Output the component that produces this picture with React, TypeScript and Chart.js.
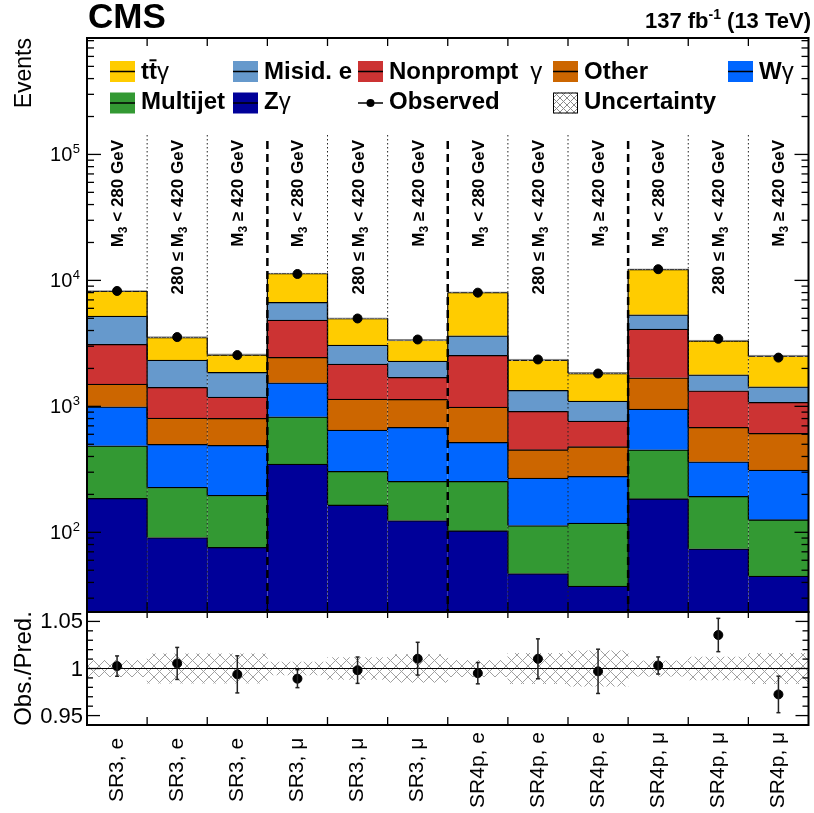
import React, { useEffect, useRef } from "react";
import { Chart, registerables } from "chart.js";

Chart.register(...registerables);

// ---------------- data ----------------
const categories = [
  "SR3, e", "SR3, e", "SR3, e",
  "SR3, μ", "SR3, μ", "SR3, μ",
  "SR4p, e", "SR4p, e", "SR4p, e",
  "SR4p, μ", "SR4p, μ", "SR4p, μ",
];
const regionLabels = [
  "M_3 < 280 GeV", "280 ≤ M_3 < 420 GeV", "M_3 ≥ 420 GeV",
  "M_3 < 280 GeV", "280 ≤ M_3 < 420 GeV", "M_3 ≥ 420 GeV",
  "M_3 < 280 GeV", "280 ≤ M_3 < 420 GeV", "M_3 ≥ 420 GeV",
  "M_3 < 280 GeV", "280 ≤ M_3 < 420 GeV", "M_3 ≥ 420 GeV",
];
// stacked from bottom to top
const zGamma = [186, 91, 76, 348, 165, 124, 103, 47, 37.5, 185, 74, 45];
const multijet = [301, 137, 121, 479, 140, 130, 151, 66, 81, 267, 119, 81];
const wGamma = [506, 271, 293, 712, 343, 427, 264, 157, 160, 500, 170, 186];
const other = [510, 309, 313, 909, 494, 455, 469, 183, 200, 734, 318, 298];
const nonprompt = [1602, 607, 382, 2392, 1024, 563, 1552, 460, 286, 2421, 649, 466];
const misidE = [2107, 916, 676, 1850, 899, 589, 1095, 428, 338, 1226, 451, 354];
const ttGamma = [3010, 1197, 707, 4673, 1929, 1071, 4397, 991, 726, 6898, 1536, 1077];
const observed = [8243, 3547, 2552, 11240, 4985, 3394, 7991, 2356, 1823, 12270, 3435, 2438];
const observedRatioErr = [0.0108, 0.017, 0.0197, 0.0095, 0.014, 0.0174, 0.0113, 0.0212, 0.0235, 0.0091, 0.0177, 0.0194];
const predRelUnc = [0.0088, 0.0156, 0.0156, 0.0068, 0.0117, 0.0149, 0.0088, 0.016, 0.0188, 0.0082, 0.012, 0.016];

const seriesNames = ["Zγ", "Multijet", "Wγ", "Other", "Nonprompt γ", "Misid. e", "tt̄γ"];
const legendLabels = ["tt̄γ", "Misid. e", "Nonprompt γ", "Other", "Wγ", "Multijet", "Zγ", "Observed", "Uncertainty"];
const mainTickExponents = [2, 3, 4, 5];
const ratioTickValues = [0.95, 1, 1.05];
const ratioTickLabels = ["0.95", "1", "1.05"];

// ---------------- style ----------------
const FONT = '"Liberation Sans", Arial, Helvetica, sans-serif';
const seriesColors = ["#000099", "#339933", "#0066ff", "#cc6600", "#cc3333", "#6699cc", "#ffcc00"];
const legendColors = ["#ffcc00", "#6699cc", "#cc3333", "#cc6600", "#0066ff", "#339933", "#000099", "", ""];
const legendSlots = [
  [110, 0], [233, 0], [358, 0], [553, 0], [728, 0],
  [110, 1], [233, 1], [358, 1], [553, 1],
];
const RATIO_TOP = 600;

const bkgSeries = [zGamma, multijet, wGamma, other, nonprompt, misidE, ttGamma];
const totals = categories.map((_, i) => bkgSeries.reduce((s, a) => s + a[i], 0));

function makeHatch(size: number, color: string) {
  const c = document.createElement("canvas");
  c.width = size;
  c.height = size;
  const g = c.getContext("2d")!;
  g.strokeStyle = color;
  g.lineWidth = 1;
  g.beginPath();
  g.moveTo(0, 0);
  g.lineTo(size, size);
  g.moveTo(0, size);
  g.lineTo(size, 0);
  g.stroke();
  return g.createPattern(c, "repeat")!;
}

function drawRich(ctx: CanvasRenderingContext2D, text: string, x: number, y: number, size: number) {
  const chars = Array.from(text);
  let cx = x;
  for (let i = 0; i < chars.length; i++) {
    const ch = chars[i];
    if (ch === "\u0304") continue;
    const over = chars[i + 1] === "\u0304";
    ctx.font = ch === "γ" ? `${size}px ${FONT}` : `bold ${size}px ${FONT}`;
    let w = ctx.measureText(ch).width;
    if (ch === " " && chars[i + 1] === "γ") w *= 1.8;
    ctx.fillText(ch, cx, y);
    if (over) ctx.fillRect(cx + 0.5, y - size * 0.8, w - 1, 2);
    cx += w;
  }
}

function drawRegionLabel(ctx: CanvasRenderingContext2D, text: string, cx: number, yEnd: number) {
  const parts = text.split("_");
  const segs: { t: string; sub: boolean }[] = [];
  parts.forEach((p, idx) => {
    if (idx === 0) {
      if (p) segs.push({ t: p, sub: false });
    } else {
      segs.push({ t: p[0], sub: true });
      if (p.length > 1) segs.push({ t: p.slice(1), sub: false });
    }
  });
  const fMain = `bold 17px ${FONT}`;
  const fSub = `bold 12px ${FONT}`;
  let total = 0;
  segs.forEach((s) => {
    ctx.font = s.sub ? fSub : fMain;
    total += ctx.measureText(s.t).width;
  });
  ctx.save();
  ctx.translate(cx, yEnd);
  ctx.rotate(-Math.PI / 2);
  ctx.textAlign = "left";
  ctx.textBaseline = "alphabetic";
  ctx.fillStyle = "#000";
  let px = -total;
  segs.forEach((s) => {
    ctx.font = s.sub ? fSub : fMain;
    ctx.fillText(s.t, px, s.sub ? 10 : 6);
    px += ctx.measureText(s.t).width;
  });
  ctx.restore();
}

function line(ctx: CanvasRenderingContext2D, x1: number, y1: number, x2: number, y2: number) {
  ctx.beginPath();
  ctx.moveTo(x1, y1);
  ctx.lineTo(x2, y2);
  ctx.stroke();
}

function binEdges(chart: any) {
  const xs = chart.scales.x;
  const edges: number[] = [];
  for (let k = 1; k < categories.length; k++) {
    edges.push((xs.getPixelForValue(k - 1) + xs.getPixelForValue(k)) / 2);
  }
  return edges;
}

const mainDecor = {
  id: "mainDecor",
  afterDatasetsDraw(chart: any) {
    const ctx: CanvasRenderingContext2D = chart.ctx;
    const a = chart.chartArea;
    ctx.save();
    // step outlines between bins
    ctx.strokeStyle = "#000";
    ctx.lineWidth = 1.2;
    for (let d = 0; d < bkgSeries.length; d++) {
      const meta = chart.getDatasetMeta(d);
      for (let i = 0; i < meta.data.length - 1; i++) {
        const e1: any = meta.data[i];
        const e2: any = meta.data[i + 1];
        const bx = (e1.x + e2.x) / 2;
        line(ctx, bx, e1.y, bx, e2.y);
      }
    }
    // separators
    const edges = binEdges(chart);
    edges.forEach((bx, idx) => {
      const k = idx + 1;
      if (k % 3 === 0) {
        ctx.setLineDash([8, 5]);
        ctx.lineWidth = 2.5;
        ctx.strokeStyle = "#000";
        line(ctx, bx, 141, bx, a.bottom);
      } else {
        ctx.setLineDash([1.5, 2.5]);
        ctx.lineWidth = 1;
        ctx.strokeStyle = "#222";
        line(ctx, bx, 135, bx, a.bottom);
      }
    });
    ctx.setLineDash([]);
    ctx.restore();
  },
  afterDraw(chart: any) {
    const ctx: CanvasRenderingContext2D = chart.ctx;
    const a = chart.chartArea;
    const ys = chart.scales.y;
    const xs = chart.scales.x;
    ctx.save();
    ctx.fillStyle = "#000";
    ctx.strokeStyle = "#000";

    // region labels
    regionLabels.forEach((t, i) => drawRegionLabel(ctx, t, xs.getPixelForValue(i), 140));

    // frame
    ctx.lineWidth = 2;
    ctx.strokeRect(a.left, a.top, a.right - a.left, a.bottom - a.top);

    // y ticks (inward, both sides)
    ctx.lineWidth = 1.3;
    for (let e = 1; e <= 5; e++) {
      for (let m = 1; m <= 9; m++) {
        const v = m * Math.pow(10, e);
        if (v < ys.min || v > ys.max) continue;
        const py = ys.getPixelForValue(v);
        const len = m === 1 ? 14 : 7;
        line(ctx, a.left, py, a.left + len, py);
        line(ctx, a.right, py, a.right - len, py);
      }
    }
    // x ticks
    binEdges(chart).forEach((bx) => {
      line(ctx, bx, a.top, bx, a.top + 8);
      line(ctx, bx, a.bottom, bx, a.bottom - 10);
    });

    // y tick labels
    ctx.textAlign = "left";
    ctx.textBaseline = "alphabetic";
    mainTickExponents.forEach((e) => {
      const py = ys.getPixelForValue(Math.pow(10, e));
      ctx.font = `13px ${FONT}`;
      const supW = ctx.measureText(String(e)).width;
      ctx.font = `20px ${FONT}`;
      const tenW = ctx.measureText("10").width;
      const x0 = 80 - supW - 0.5 - tenW;
      ctx.fillText("10", x0, py + 7);
      ctx.font = `13px ${FONT}`;
      ctx.fillText(String(e), x0 + tenW + 0.5, py - 1);
    });

    // y title
    ctx.save();
    ctx.translate(31, a.top);
    ctx.rotate(-Math.PI / 2);
    ctx.textAlign = "right";
    ctx.font = `23px ${FONT}`;
    ctx.fillText("Events", 0, 0);
    ctx.restore();

    // CMS + lumi
    ctx.textAlign = "left";
    ctx.font = `bold 35px ${FONT}`;
    ctx.fillText("CMS", 88, 28);
    ctx.font = `bold 22px ${FONT}`;
    const p1 = "137 fb";
    const p3 = " (13 TeV)";
    const w1 = ctx.measureText(p1).width;
    const w3 = ctx.measureText(p3).width;
    ctx.font = `bold 14px ${FONT}`;
    const w2 = ctx.measureText("-1").width;
    let lx = 811 - w1 - w2 - w3;
    ctx.font = `bold 22px ${FONT}`;
    ctx.fillText(p1, lx, 28);
    lx += w1;
    ctx.font = `bold 14px ${FONT}`;
    ctx.fillText("-1", lx, 19);
    lx += w2;
    ctx.font = `bold 22px ${FONT}`;
    ctx.fillText(p3, lx, 28);

    // legend
    const hatch = (chart as any).$hatchLegend;
    legendLabels.forEach((lab, i) => {
      const [bx, row] = legendSlots[i];
      const top = row === 0 ? 61 : 92.5;
      const base = row === 0 ? 78.5 : 109;
      const bw = 25;
      const bh = 21;
      if (lab === "Observed") {
        ctx.lineWidth = 1.5;
        line(ctx, bx, top + bh / 2, bx + bw, top + bh / 2);
        ctx.beginPath();
        ctx.arc(bx + bw / 2, top + bh / 2, 4, 0, Math.PI * 2);
        ctx.fill();
      } else if (lab === "Uncertainty") {
        ctx.fillStyle = hatch;
        ctx.fillRect(bx, top, bw, bh);
        ctx.fillStyle = "#000";
        ctx.lineWidth = 1;
        ctx.strokeRect(bx + 0.5, top + 0.5, bw - 1, bh - 1);
      } else {
        ctx.fillStyle = legendColors[i];
        ctx.fillRect(bx, top, bw, bh);
        ctx.fillStyle = "#000";
        ctx.lineWidth = 1.5;
        line(ctx, bx, top + bh / 2, bx + bw, top + bh / 2);
      }
      ctx.fillStyle = "#000";
      ctx.textAlign = "left";
      drawRich(ctx, lab, bx + bw + 6, base, 24);
    });
    ctx.restore();
  },
};

const ratioDecor = {
  id: "ratioDecor",
  afterDatasetsDraw(chart: any) {
    const ctx: CanvasRenderingContext2D = chart.ctx;
    const a = chart.chartArea;
    const ys = chart.scales.y;
    ctx.save();
    ctx.strokeStyle = "#000";
    ctx.lineWidth = 1;
    const p1 = ys.getPixelForValue(1);
    line(ctx, a.left, p1, a.right, p1);
    // error bars
    const meta = chart.getDatasetMeta(0);
    const ds = chart.data.datasets[0].data as number[];
    ctx.strokeStyle = "#222";
    ctx.lineWidth = 1.5;
    meta.data.forEach((el: any, i: number) => {
      const r = ds[i];
      const t = ys.getPixelForValue(r + observedRatioErr[i]);
      const b = ys.getPixelForValue(r - observedRatioErr[i]);
      line(ctx, el.x, t, el.x, b);
      line(ctx, el.x - 2, t, el.x + 2, t);
      line(ctx, el.x - 2, b, el.x + 2, b);
    });
    ctx.restore();
  },
  afterDraw(chart: any) {
    const ctx: CanvasRenderingContext2D = chart.ctx;
    const a = chart.chartArea;
    const ys = chart.scales.y;
    const xs = chart.scales.x;
    ctx.save();
    ctx.strokeStyle = "#000";
    ctx.fillStyle = "#000";
    ctx.lineWidth = 2;
    ctx.strokeRect(a.left, a.top, a.right - a.left, a.bottom - a.top);
    ctx.lineWidth = 1.3;
    for (let k = 94; k <= 106; k++) {
      const v = k / 100;
      const py = ys.getPixelForValue(v);
      const len = k % 5 === 0 ? 13 : 6;
      line(ctx, a.left, py, a.left + len, py);
      line(ctx, a.right, py, a.right - len, py);
    }
    binEdges(chart).forEach((bx) => {
      line(ctx, bx, a.top, bx, a.top + 6);
      line(ctx, bx, a.bottom, bx, a.bottom - 8);
    });
    // y labels
    ctx.font = `22px ${FONT}`;
    ctx.textAlign = "right";
    ctx.textBaseline = "middle";
    ratioTickValues.forEach((v, i) => {
      ctx.fillText(ratioTickLabels[i], 83, ys.getPixelForValue(v) + 1);
    });
    // y title
    ctx.save();
    ctx.translate(31, (a.top + a.bottom) / 2);
    ctx.rotate(-Math.PI / 2);
    ctx.textAlign = "center";
    ctx.textBaseline = "alphabetic";
    ctx.font = `24px ${FONT}`;
    ctx.fillText("Obs./Pred.", 0, 0);
    ctx.restore();
    // x labels (canvas starts at page y = RATIO_TOP)
    (chart.data.labels as string[]).forEach((lab, i) => {
      ctx.save();
      ctx.translate(xs.getPixelForValue(i), 770 - RATIO_TOP);
      ctx.rotate(-Math.PI / 2);
      ctx.textAlign = "center";
      ctx.textBaseline = "middle";
      ctx.font = `21px ${FONT}`;
      ctx.fillText(lab, 0, 0);
      ctx.restore();
    });
    ctx.restore();
  },
};

export default function App() {
  const mainRef = useRef<HTMLCanvasElement>(null);
  const ratioRef = useRef<HTMLCanvasElement>(null);

  useEffect(() => {
    const mc = mainRef.current!;
    const rc = ratioRef.current!;
    const hatchMain = makeHatch(8, "#8a8a8a");
    const hatchLegend = makeHatch(7, "#8a8a8a");
    const hatchRatio = makeHatch(11, "#a0a0a0");

    const bkgDatasets = bkgSeries.map((arr, d) => ({
      type: "bar" as const,
      label: seriesNames[d],
      data: arr,
      backgroundColor: seriesColors[d],
      borderColor: "#000",
      borderWidth: { top: 1.3, left: 0, right: 0, bottom: 0 },
      borderSkipped: false as const,
      barPercentage: 1,
      categoryPercentage: 1,
      stack: "bkg",
      order: 2,
    }));

    const main = new Chart(mc, {
      type: "bar",
      data: {
        labels: categories,
        datasets: [
          ...bkgDatasets,
          {
            type: "bar",
            label: "Uncertainty",
            data: totals.map((t, i) => [t * (1 - predRelUnc[i]), t * (1 + predRelUnc[i])]) as any,
            backgroundColor: hatchMain as any,
            borderColor: "rgba(120,120,120,0.9)",
            borderWidth: { top: 1, left: 0, right: 0, bottom: 0 },
            borderSkipped: false,
            barPercentage: 1,
            categoryPercentage: 1,
            grouped: false,
            stack: "unc",
            order: 1,
          } as any,
          {
            type: "line",
            label: "Observed",
            data: observed,
            showLine: false,
            pointRadius: 4.5,
            pointBackgroundColor: "#000",
            pointBorderColor: "#000",
            borderColor: "#000",
            stack: "obs",
            order: 0,
          } as any,
        ],
      },
      options: {
        responsive: false,
        maintainAspectRatio: false,
        devicePixelRatio: 1,
        animation: false,
        events: [],
        layout: { padding: { left: 87, right: 2, top: 38, bottom: 28 } },
        plugins: { legend: { display: false }, title: { display: false }, tooltip: { enabled: false } },
        scales: {
          x: { type: "category", display: false, offset: true, stacked: true, grid: { display: false } },
          y: { type: "logarithmic", display: false, min: 23.3, max: 8.4e5, stacked: true, bounds: "data" } as any,
        },
      },
      plugins: [mainDecor as any],
    });
    (main as any).$hatchLegend = hatchLegend;
    main.draw();

    const ratio = new Chart(rc, {
      type: "bar",
      data: {
        labels: categories,
        datasets: [
          {
            type: "line",
            label: "Obs./Pred.",
            data: observed.map((o, i) => o / totals[i]),
            showLine: false,
            pointRadius: 4.5,
            pointBackgroundColor: "#000",
            pointBorderColor: "#000",
            borderColor: "#000",
            order: 0,
          } as any,
          {
            type: "bar",
            label: "Uncertainty",
            data: predRelUnc.map((u) => [1 - u, 1 + u]) as any,
            backgroundColor: hatchRatio as any,
            borderWidth: 0,
            barPercentage: 1,
            categoryPercentage: 1,
            order: 1,
          } as any,
        ],
      },
      options: {
        responsive: false,
        maintainAspectRatio: false,
        devicePixelRatio: 1,
        animation: false,
        events: [],
        layout: { padding: { left: 87, right: 2, top: 12, bottom: 88 } },
        plugins: { legend: { display: false }, title: { display: false }, tooltip: { enabled: false } },
        scales: {
          x: { type: "category", display: false, offset: true, grid: { display: false } },
          y: { type: "linear", display: false, min: 0.94, max: 1.06, bounds: "data" } as any,
        },
      },
      plugins: [ratioDecor as any],
    });

    return () => {
      main.destroy();
      ratio.destroy();
    };
  }, []);

  return (
    <div style={{ position: "absolute", left: 0, top: 0, width: 814, height: 813, background: "#fff", overflow: "hidden" }}>
      <canvas ref={mainRef} width={814} height={640} style={{ position: "absolute", left: 0, top: 0, width: 814, height: 640 }} />
      <canvas ref={ratioRef} width={814} height={213} style={{ position: "absolute", left: 0, top: RATIO_TOP, width: 814, height: 213 }} />
    </div>
  );
}
